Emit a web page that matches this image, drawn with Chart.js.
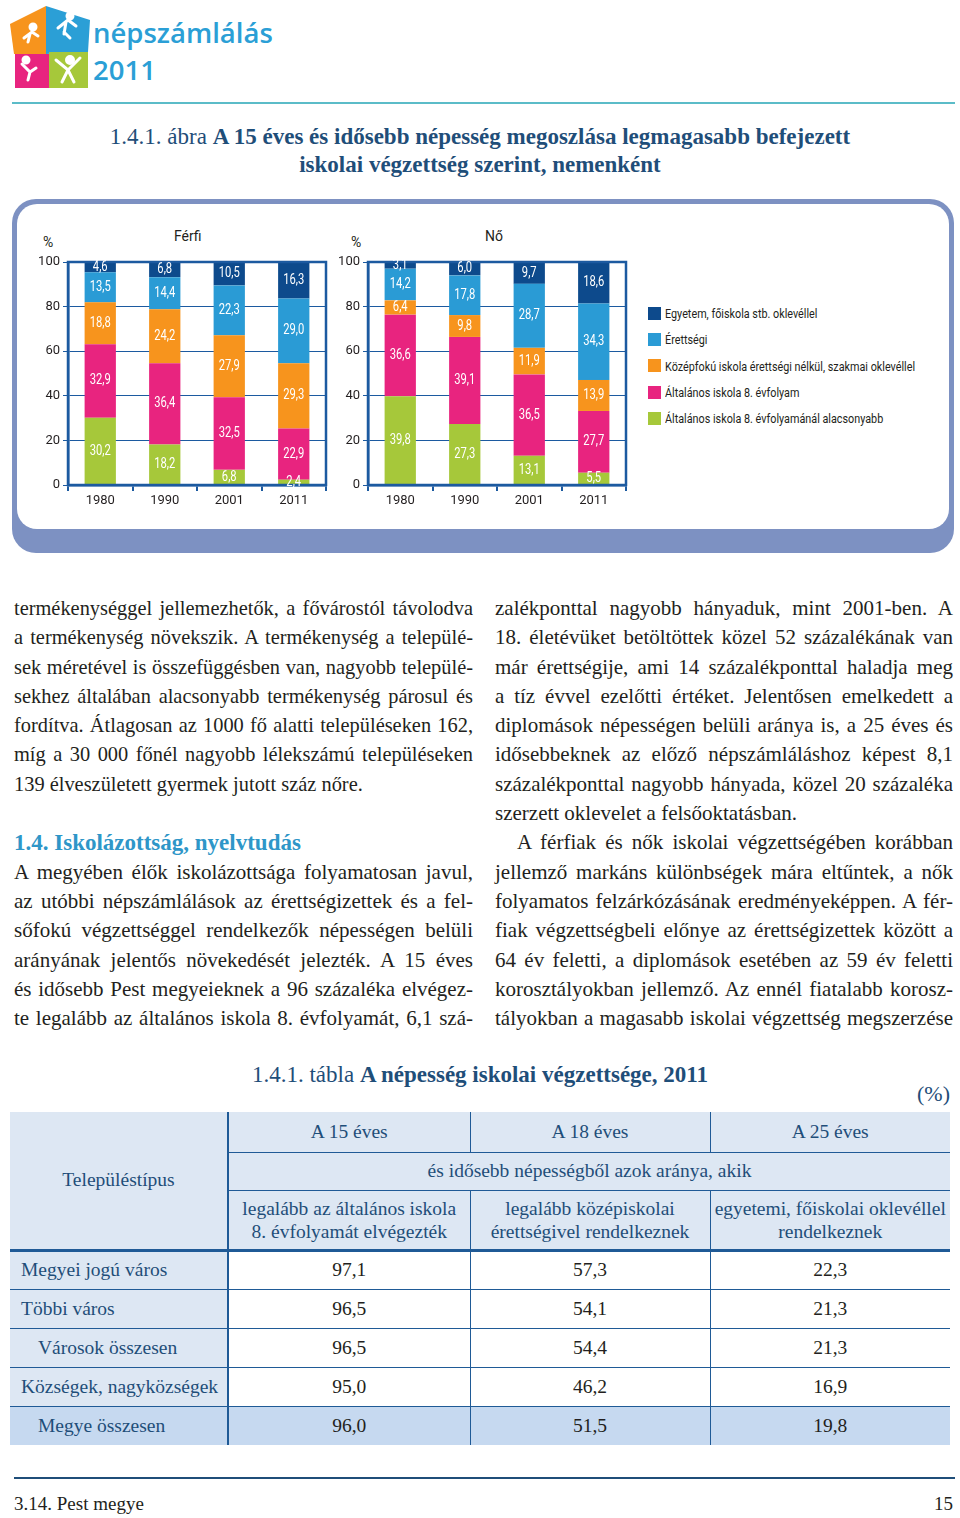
<!DOCTYPE html>
<html>
<head>
<meta charset="utf-8">
<script src="https://cdn.jsdelivr.net/npm/chart.js@4.4.1/dist/chart.umd.min.js"></script>
<style>
  html, body { margin: 0; padding: 0; background: #fff; }
  body { width: 960px; height: 1518px; position: relative; overflow: hidden; font-family: "Liberation Serif", serif; color: #231f20; }
  .abs { position: absolute; }
  .logotxt { font-family: "Open Sans", sans-serif; font-weight: 600; color: #2b9fd6; font-size: 27.5px; line-height: 27px; }
  .title { left: 0; width: 960px; text-align: center; color: #1f4e79; font-size: 23px; line-height: 28px; }
  .narrow { font-family: Roboto, sans-serif; }
  .col { font-size: 21px; line-height: 29.3px; }
  .col div { white-space: nowrap; }
  .colL { font-size: 20.4px; }
  .j { text-align: justify; text-align-last: justify; }
  .h { color: #2e96c8; font-weight: bold; font-size: 23px; }
  .ind { text-indent: 22px; }
  table { border-collapse: collapse; table-layout: fixed; font-size: 19.5px; }
  td { padding: 0; text-align: center; white-space: nowrap; }
  .hd td { background: #dde7f3; color: #1f4e79; }
  .lg { display: flex; align-items: center; height: 26.3px; font-size: 13.5px; color: #231f20; white-space: nowrap; }
  .lg span { display: inline-block; width: 13px; height: 13px; margin-right: 4px; }
  .lg i { font-style: normal; display: inline-block; transform: scaleX(0.8); transform-origin: left center; }
</style>
</head>
<body>

<!-- logo -->
<svg class="abs" style="left:6px;top:2px" width="90" height="90" viewBox="0 0 90 90">
  <polygon points="4,22 40,4 40,52 8,52" fill="#f7941d"/>
  <polygon points="40,4 84,18 82,50 40,52" fill="#2b9fd6"/>
  <rect x="9" y="52" width="34" height="34" fill="#e8247f"/>
  <rect x="43" y="50" width="39" height="36" fill="#a6c83a"/>
  <g stroke="#fff" stroke-width="3" stroke-linecap="round" fill="none">
    <path d="M18 36 l8 -6 l6 4 M24 32 l-2 8"/><circle cx="27" cy="25" r="3" fill="#fff"/>
    <path d="M52 26 l10 -8 l8 6 M60 20 l-2 12 M58 30 l6 6"/><circle cx="64" cy="14" r="3" fill="#fff"/>
    <path d="M16 62 l8 8 l6 -4 M24 70 l-2 8"/><circle cx="20" cy="58" r="3" fill="#fff"/>
    <path d="M50 58 l12 10 l12 -12 M62 68 l-6 12 M62 68 l6 12"/><circle cx="64" cy="58" r="3.5" fill="#fff"/>
  </g>
</svg>
<div class="abs logotxt" style="left:93px;top:19px">népszámlálás</div>
<div class="abs logotxt" style="left:93px;top:56px">2011</div>
<div class="abs" style="left:12px;top:102px;width:943px;height:2px;background:#5bbcc8"></div>

<!-- figure title -->
<div class="abs title" style="top:123px">1.4.1. ábra <b>A 15 éves és idősebb népesség megoszlása legmagasabb befejezett</b></div>
<div class="abs title" style="top:151px"><b>iskolai végzettség szerint, nemenként</b></div>

<!-- chart panel -->
<div class="abs" style="left:12px;top:199px;width:942px;height:354px;background:#7d91c2;border-radius:24px"></div>
<div class="abs" style="left:17px;top:204px;width:932px;height:325px;background:#fff;border-radius:20px"></div>

<div class="abs narrow" style="left:43px;top:234px;font-size:14px">%</div>
<div class="abs narrow" style="left:351px;top:234px;font-size:14px">%</div>
<div class="abs narrow" style="left:174px;top:228px;font-size:14px">Férfi</div>
<div class="abs narrow" style="left:485px;top:228px;font-size:14px">Nő</div>

<div class="abs" style="left:30px;top:250px;width:300px;height:260px"><canvas id="ferfi"></canvas></div>
<div class="abs" style="left:330px;top:250px;width:300px;height:260px"><canvas id="no"></canvas></div>

<div class="abs narrow" id="legend" style="left:648px;top:300px"></div>

<!-- text columns -->
<div class="abs col" style="left:14px;top:594px;width:459px">
  <div class="j colL">termékenységgel jellemezhetők, a fővárostól távolodva</div>
  <div class="j colL">a termékenység növekszik. A termékenység a települé-</div>
  <div class="j colL">sek méretével is összefüggésben van, nagyobb települé-</div>
  <div class="j colL">sekhez általában alacsonyabb termékenység párosul és</div>
  <div class="j colL">fordítva. Átlagosan az 1000 fő alatti településeken 162,</div>
  <div class="j colL">míg a 30 000 főnél nagyobb lélekszámú településeken</div>
  <div class="colL">139 élveszületett gyermek jutott száz nőre.</div>
  <div>&nbsp;</div>
  <div class="h">1.4. Iskolázottság, nyelvtudás</div>
  <div class="j">A megyében élők iskolázottsága folyamatosan javul,</div>
  <div class="j">az utóbbi népszámlálások az érettségizettek és a fel-</div>
  <div class="j">sőfokú végzettséggel rendelkezők népességen belüli</div>
  <div class="j">arányának jelentős növekedését jelezték. A 15 éves</div>
  <div class="j">és idősebb Pest megyeieknek a 96 százaléka elvégez-</div>
  <div class="j">te legalább az általános iskola 8. évfolyamát, 6,1 szá-</div>
</div>
<div class="abs col" style="left:495px;top:594px;width:458px">
  <div class="j">zalékponttal nagyobb hányaduk, mint 2001-ben. A</div>
  <div class="j">18. életévüket betöltöttek közel 52 százalékának van</div>
  <div class="j">már érettségije, ami 14 százalékponttal haladja meg</div>
  <div class="j">a tíz évvel ezelőtti értéket. Jelentősen emelkedett a</div>
  <div class="j">diplomások népességen belüli aránya is, a 25 éves és</div>
  <div class="j">idősebbeknek az előző népszámláláshoz képest 8,1</div>
  <div class="j">százalékponttal nagyobb hányada, közel 20 százaléka</div>
  <div>szerzett oklevelet a felsőoktatásban.</div>
  <div class="j ind">A férfiak és nők iskolai végzettségében korábban</div>
  <div class="j">jellemző markáns különbségek mára eltűntek, a nők</div>
  <div class="j">folyamatos felzárkózásának eredményeképpen. A fér-</div>
  <div class="j">fiak végzettségbeli előnye az érettségizettek között a</div>
  <div class="j">64 év feletti, a diplomások esetében az 59 év feletti</div>
  <div class="j">korosztályokban jellemző. Az ennél fiatalabb korosz-</div>
  <div class="j">tályokban a magasabb iskolai végzettség megszerzése</div>
</div>

<!-- table -->
<div class="abs" style="left:0;width:960px;top:1062px;text-align:center;color:#1f4e79;font-size:23px">1.4.1. tábla <b>A népesség iskolai végzettsége, 2011</b></div>
<div class="abs" style="right:10px;top:1081px;color:#1f4e79;font-size:22px">(%)</div>
<table class="abs" id="tbl" style="left:10px;top:1112px;width:940px">
  <colgroup><col style="width:218px"><col style="width:242px"><col style="width:240px"><col style="width:240px"></colgroup>
  <tr class="hd" style="height:40px">
    <td rowspan="3" style="border-right:2px solid #1f5a96;border-bottom:3px solid #1f5a96">Településtípus</td>
    <td style="border-right:1px solid #1f5a96;border-bottom:1.5px solid #1f5a96">A 15 éves</td>
    <td style="border-right:1px solid #1f5a96;border-bottom:1.5px solid #1f5a96">A 18 éves</td>
    <td style="border-bottom:1.5px solid #1f5a96">A 25 éves</td>
  </tr>
  <tr class="hd" style="height:38px">
    <td colspan="3" style="border-bottom:1.5px solid #1f5a96">és idősebb népességből azok aránya, akik</td>
  </tr>
  <tr class="hd" style="height:60px;line-height:23px">
    <td style="border-right:1px solid #1f5a96;border-bottom:3px solid #1f5a96">legalább az általános iskola<br>8. évfolyamát elvégezték</td>
    <td style="border-right:1px solid #1f5a96;border-bottom:3px solid #1f5a96">legalább középiskolai<br>érettségivel rendelkeznek</td>
    <td style="border-bottom:3px solid #1f5a96">egyetemi, főiskolai oklevéllel<br>rendelkeznek</td>
  </tr>
</table>

<div class="abs" style="left:14px;top:1477px;width:941px;height:2px;background:#1f4e79"></div>
<div class="abs" style="left:14px;top:1493px;font-size:19px">3.14. Pest megye</div>
<div class="abs" style="right:7px;top:1493px;font-size:19px">15</div>

<script>
// chart data
var years = ["1980", "1990", "2001", "2011"];
var seriesNames = [
  "Általános iskola 8. évfolyamánál alacsonyabb",
  "Általános iskola 8. évfolyam",
  "Középfokú iskola érettségi nélkül, szakmai oklevéllel",
  "Érettségi",
  "Egyetem, főiskola stb. oklevéllel"
];
var seriesColors = ["#a6c83a", "#e8247f", "#f7941d", "#2a9bd5", "#0d4a8c"];

var ferfiAlacsony = [30.2, 18.2, 6.8, 2.4];
var ferfiAlt8 = [32.9, 36.4, 32.5, 22.9];
var ferfiKozep = [18.8, 24.2, 27.9, 29.3];
var ferfiErettsegi = [13.5, 14.4, 22.3, 29.0];
var ferfiEgyetem = [4.6, 6.8, 10.5, 16.3];

var noAlacsony = [39.8, 27.3, 13.1, 5.5];
var noAlt8 = [36.6, 39.1, 36.5, 27.7];
var noKozep = [6.4, 9.8, 11.9, 13.9];
var noErettsegi = [14.2, 17.8, 28.7, 34.3];
var noEgyetem = [3.1, 6.0, 9.7, 18.6];

var yTicks = [0, 20, 40, 60, 80, 100];

// table data
var tableRows = ["Megyei jogú város", "Többi város", "Városok összesen", "Községek, nagyközségek", "Megye összesen"];
var col15 = [97.1, 96.5, 96.5, 95.0, 96.0];
var col18 = [57.3, 54.1, 54.4, 46.2, 51.5];
var col25 = [22.3, 21.3, 21.3, 16.9, 19.8];

var axisBlue = "#1c5aa0";
var chartFont = "Roboto, sans-serif";

function fmt(v) { return v.toFixed(1).replace(".", ","); }

var valueLabels = {
  id: "valueLabels",
  afterDatasetsDraw: function(chart) {
    var ctx = chart.ctx;
    var a = chart.chartArea;
    // frame round the plot
    ctx.save();
    ctx.strokeStyle = axisBlue;
    ctx.lineWidth = 2.5;
    ctx.strokeRect(a.left, a.top, a.right - a.left, a.bottom - a.top);
    ctx.fillStyle = "#fff";
    ctx.font = "14px " + chartFont;
    ctx.textAlign = "center";
    ctx.textBaseline = "middle";
    chart.data.datasets.forEach(function(ds, i) {
      chart.getDatasetMeta(i).data.forEach(function(bar, j) {
        var p = bar.getCenterPoint();
        ctx.save();
        ctx.translate(p.x, p.y);
        ctx.scale(0.8, 1);
        ctx.fillText(fmt(ds.data[j]), 0, 0);
        ctx.restore();
      });
    });
    ctx.restore();
  }
};

function makeChart(id, sets) {
  new Chart(document.getElementById(id), {
    type: "bar",
    data: {
      labels: years,
      datasets: sets.map(function(d, i) {
        return {
          label: seriesNames[i],
          data: d,
          backgroundColor: seriesColors[i],
          barPercentage: 0.97,
          categoryPercentage: 0.5
        };
      })
    },
    options: {
      responsive: true,
      maintainAspectRatio: false,
      animation: false,
      layout: { padding: { top: 12, right: 4, left: 0, bottom: 0 } },
      plugins: { legend: { display: false }, tooltip: { enabled: false } },
      scales: {
        x: {
          stacked: true,
          afterFit: function(s) { s.height = 25; },
          grid: { offset: true, drawOnChartArea: false, tickLength: 6, color: axisBlue, lineWidth: 2 },
          border: { display: true, color: axisBlue, width: 2.5 },
          ticks: { color: "#231f20", font: { family: chartFont, size: 13 }, padding: 2 }
        },
        y: {
          stacked: true,
          min: 0,
          max: 100,
          afterFit: function(s) { s.width = 38; },
          afterBuildTicks: function(s) { s.ticks = yTicks.map(function(v) { return { value: v }; }); },
          grid: { color: axisBlue, lineWidth: 1, tickLength: 5 },
          border: { display: true, color: axisBlue, width: 2.5 },
          ticks: { color: "#231f20", font: { family: chartFont, size: 13 }, padding: 3 }
        }
      }
    },
    plugins: [valueLabels]
  });
}

makeChart("ferfi", [ferfiAlacsony, ferfiAlt8, ferfiKozep, ferfiErettsegi, ferfiEgyetem]);
makeChart("no", [noAlacsony, noAlt8, noKozep, noErettsegi, noEgyetem]);

// legend, top entry first
var lg = document.getElementById("legend");
for (var k = seriesNames.length - 1; k >= 0; k--) {
  var row = document.createElement("div");
  row.className = "lg";
  row.innerHTML = '<span style="background:' + seriesColors[k] + '"></span><i>' + seriesNames[k] + '</i>';
  lg.appendChild(row);
}

// table body
var tbl = document.getElementById("tbl");
tableRows.forEach(function(name, i) {
  var last = i === tableRows.length - 1;
  var tr = document.createElement("tr");
  tr.style.height = "39px";
  var line = last ? "" : "border-bottom:1.5px solid #1f5a96;";
  var bg = last ? "background:#c6d9f0;" : "";
  var indent = (name === "Városok összesen" || last) ? "padding-left:28px;" : "padding-left:11px;";
  tr.innerHTML =
    '<td style="text-align:left;color:#1f4e79;background:' + (last ? "#c6d9f0" : "#dde7f3") + ';border-right:2px solid #1f5a96;' + line + indent + '">' + name + '</td>' +
    '<td style="' + bg + line + 'border-right:1px solid #1f5a96">' + fmt(col15[i]) + '</td>' +
    '<td style="' + bg + line + 'border-right:1px solid #1f5a96">' + fmt(col18[i]) + '</td>' +
    '<td style="' + bg + line + '">' + fmt(col25[i]) + '</td>';
  tbl.appendChild(tr);
});
</script>
</body>
</html>
